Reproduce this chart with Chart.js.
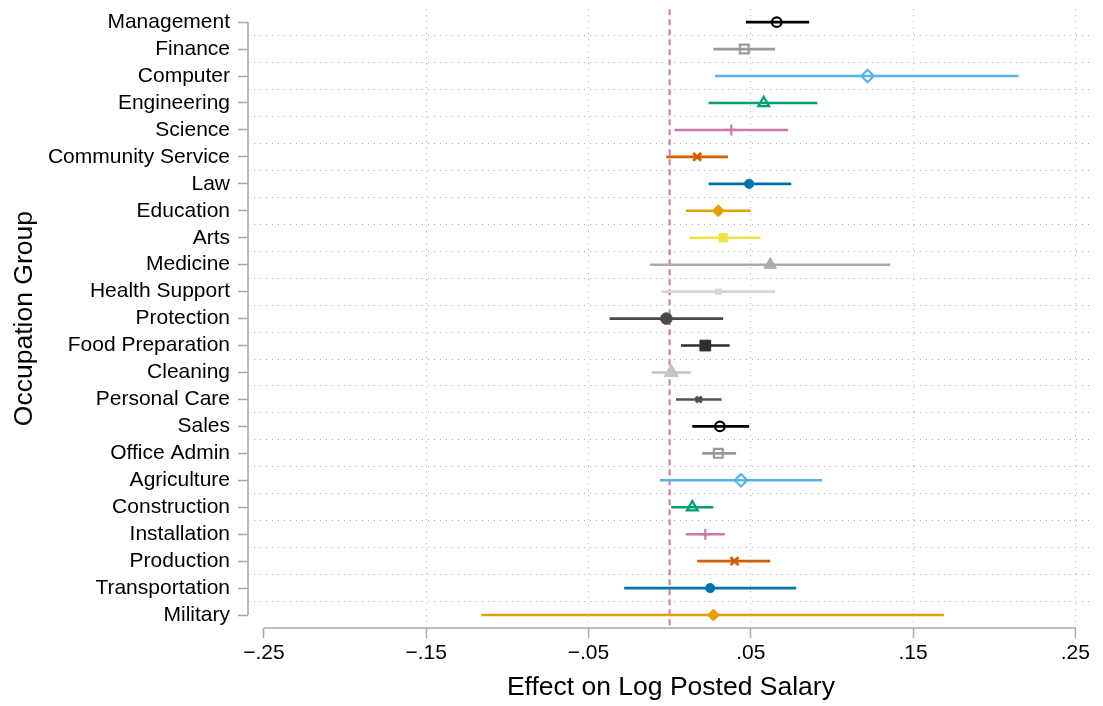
<!DOCTYPE html>
<html>
<head>
<meta charset="utf-8">
<script src="https://cdn.jsdelivr.net/npm/chart.js@4.4.1/dist/chart.umd.min.js"></script>
<style>
    html, body { margin: 0; padding: 0; background: #fff; }
    canvas { display: block; }
</style>
</head>
<body>
<canvas id="coefChart" width="1103" height="706"></canvas>
<script>
// ===== DATA =====
const categories = [
    "Management", "Finance", "Computer", "Engineering", "Science",
    "Community Service", "Law", "Education", "Arts", "Medicine",
    "Health Support", "Protection", "Food Preparation", "Cleaning",
    "Personal Care", "Sales", "Office Admin", "Agriculture",
    "Construction", "Installation", "Production", "Transportation", "Military"
];

const estimates = [0.066, 0.046, 0.122, 0.058, 0.038, 0.017, 0.049, 0.030, 0.033, 0.062, 0.030, -0.002,
    0.022, 0.001, 0.018, 0.031, 0.030, 0.044, 0.014, 0.022, 0.040, 0.025, 0.027];
const lower = [0.047, 0.027, 0.028, 0.024, 0.003, -0.002, 0.024, 0.010, 0.012, -0.012, -0.005, -0.037,
    0.007, -0.011, 0.004, 0.014, 0.020, -0.006, 0.001, 0.010, 0.017, -0.028, -0.116];
const upper = [0.086, 0.065, 0.215, 0.091, 0.073, 0.036, 0.075, 0.050, 0.056, 0.136, 0.065, 0.033,
    0.037, 0.013, 0.032, 0.049, 0.041, 0.094, 0.027, 0.034, 0.062, 0.078, 0.169];

const xTicks = [-0.25, -0.15, -0.05, 0.05, 0.15, 0.25];
const xTickLabels = ["\u2212.25", "\u2212.15", "\u2212.05", ".05", ".15", ".25"];
const refLine = 0;

// ===== STYLES (cycle of 15, like the Stata scheme) =====
const cycleColors = ["#000000", "#9a9a9a", "#56b4e9", "#009e73", "#cc79a7", "#d55e00", "#0072b2",
    "#e69f00", "#f0e442", "#ababab", "#d6d6d6", "#4a4a4a", "#2e2e2e", "#c4c4c4", "#505050"];
const cycleShapes = ["circle", "rect", "rectRot", "triangle", "cross", "crossRot", "circle",
    "rectRot", "rect", "triangle", "crossRot", "circle", "rect", "triangle", "crossRot"];
const cycleHollow = [true, true, true, true, false, false, false, false, false, false, false, false, false, false, false];
const cycleRadius = [4.8, 6.2, 6.2, 6.2, 5.5, 5.6, 4.6, 6, 5.8, 7.2, 4, 5.8, 7.6, 8.2, 4];
const cycleBorder = [2.2, 2.2, 2.2, 2.2, 2.2, 2.8, 1, 1, 1, 1, 3.2, 1, 1, 1, 3.2];

const pick = (arr, i) => arr[i % arr.length];

Chart.defaults.font.family = "'Liberation Sans', Arial, Helvetica, sans-serif";
Chart.defaults.color = "#000";

const axisColor = "#a8a8a8";
const gridColor = "#ababab";
const yMin = -0.48, yMax = 22.48;

const noOverflow = s => {
    s.paddingTop = 0;
    s.paddingBottom = 0;
    s.paddingLeft = 0;
    s.paddingRight = 0;
};

// ===== AXIS LINES + ZERO LINE =====
const axisLines = {
    id: "axisLines",
    beforeDatasetsDraw(chart) {
        const { ctx, chartArea, scales: { x, y } } = chart;
        ctx.save();
        ctx.strokeStyle = axisColor;
        ctx.lineWidth = 1.5;
        ctx.beginPath();
        ctx.moveTo(chartArea.left, y.getPixelForValue(0));
        ctx.lineTo(chartArea.left, y.getPixelForValue(categories.length - 1));
        ctx.moveTo(x.getPixelForValue(xTicks[0]), chartArea.bottom);
        ctx.lineTo(x.getPixelForValue(xTicks[xTicks.length - 1]), chartArea.bottom);
        ctx.stroke();

        const zx = x.getPixelForValue(refLine);
        ctx.strokeStyle = "#cc79a7";
        ctx.lineWidth = 2;
        ctx.setLineDash([6, 4]);
        ctx.beginPath();
        ctx.moveTo(zx, chartArea.top);
        ctx.lineTo(zx, chartArea.bottom);
        ctx.stroke();
        ctx.restore();
    }
};

// ===== DATASETS =====
const markers = {
    type: "scatter",
    order: 0,
    xAxisID: "x",
    yAxisID: "y",
    data: categories.map((c, i) => ({ x: estimates[i], y: i })),
    pointStyle: categories.map((c, i) => pick(cycleShapes, i)),
    pointRadius: categories.map((c, i) => pick(cycleRadius, i)),
    borderWidth: categories.map((c, i) => pick(cycleBorder, i)),
    borderColor: categories.map((c, i) => pick(cycleColors, i)),
    backgroundColor: categories.map((c, i) => pick(cycleHollow, i) ? "rgba(0,0,0,0)" : pick(cycleColors, i)),
    clip: false
};

const bars = categories.map((c, i) => ({
    type: "line",
    order: 1,
    xAxisID: "x",
    yAxisID: "y",
    data: [{ x: lower[i], y: i }, { x: upper[i], y: i }],
    borderColor: pick(cycleColors, i),
    borderWidth: 2.6,
    pointRadius: 0,
    showLine: true,
    fill: false,
    clip: false
}));

new Chart(document.getElementById("coefChart"), {
    type: "scatter",
    data: { datasets: [markers, ...bars] },
    options: {
        responsive: false,
        animation: false,
        layout: { padding: { top: 2, right: 2, bottom: 0, left: 0 } },
        plugins: {
            legend: { display: false },
            tooltip: { enabled: false }
        },
        scales: {
            x: {
                type: "linear",
                min: -0.2598,
                max: 0.2614,
                afterBuildTicks: s => { s.ticks = xTicks.map(v => ({ value: v })); },
                afterFit: s => { s.height = 78; noOverflow(s); },
                ticks: {
                    autoSkip: false,
                    maxRotation: 0,
                    padding: 3,
                    font: { size: 21 },
                    callback: (v, i) => xTickLabels[i]
                },
                grid: {
                    color: ctx => (ctx.tick && ctx.tick.value === xTicks[0]) ? "rgba(0,0,0,0)" : gridColor,
                    lineWidth: 1,
                    drawTicks: true,
                    tickLength: 10,
                    tickColor: axisColor,
                    tickWidth: 1.5
                },
                border: { display: false, dash: [1, 5] },
                title: {
                    display: true,
                    text: "Effect on Log Posted Salary",
                    font: { size: 26.5, lineHeight: 1.2 },
                    padding: { top: 0, bottom: 2 }
                }
            },
            y: {
                type: "linear",
                reverse: true,
                min: yMin,
                max: yMax,
                afterBuildTicks: s => { s.ticks = categories.map((c, i) => ({ value: i })); },
                afterFit: s => { s.width = 248; noOverflow(s); },
                ticks: {
                    autoSkip: false,
                    padding: 8,
                    font: { size: 21 },
                    callback: v => categories[v]
                },
                grid: {
                    drawOnChartArea: false,
                    drawTicks: true,
                    tickLength: 10,
                    tickColor: axisColor,
                    tickWidth: 1.5
                },
                border: { display: false },
                title: {
                    display: true,
                    text: "Occupation Group",
                    font: { size: 26.5, lineHeight: 1.2 },
                    padding: { top: 9, bottom: 0 }
                }
            },
            // dotted lines between the groups
            yGrid: {
                type: "linear",
                position: "right",
                reverse: true,
                min: yMin,
                max: yMax,
                afterBuildTicks: s => { s.ticks = categories.slice(1).map((c, i) => ({ value: i + 0.5 })); },
                afterFit: s => { s.width = 0; noOverflow(s); },
                ticks: { display: false },
                grid: { color: gridColor, lineWidth: 1, drawTicks: false },
                border: { display: false, dash: [1, 5] }
            }
        }
    },
    plugins: [axisLines]
});
</script>
</body>
</html>
